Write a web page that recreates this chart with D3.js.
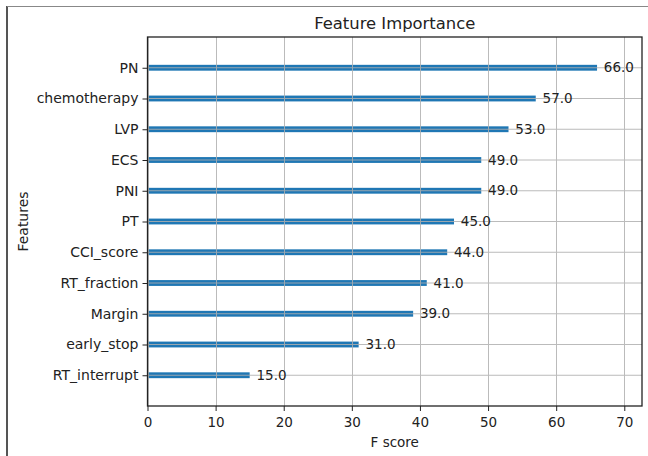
<!DOCTYPE html>
<html><head><meta charset="utf-8">
<script src="https://cdn.jsdelivr.net/npm/d3@7"></script>
<style>body{margin:0;background:#fff;}svg{display:block;font-family:"DejaVu Sans",sans-serif;}</style>
</head><body>
<script>
const features = ["RT_interrupt","early_stop","Margin","RT_fraction","CCI_score","PT","PNI","ECS","LVP","chemotherapy","PN"];
const scores = [15,31,39,41,44,45,49,49,53,57,66];
const xTicks = [0,10,20,30,40,50,60,70];

const W=648,H=456;
const m={left:147.5,right:642,top:37,bottom:406};
const svg=d3.select("body").append("svg").attr("width",W).attr("height",H);

// outer frame
svg.append("line").attr("x1",7).attr("x2",7).attr("y1",6).attr("y2",H).attr("stroke","#555").attr("stroke-width",2);
svg.append("line").attr("x1",7).attr("x2",W).attr("y1",6.5).attr("y2",6.5).attr("stroke","#888").attr("stroke-width",1);

const x=d3.scaleLinear().domain([0,d3.max(scores)*1.1]).range([m.left,m.right]);
const y=d3.scaleLinear().domain([-1,features.length]).range([m.bottom,m.top]);
const idx=d3.range(features.length);

// bars
svg.append("g").selectAll("rect").data(idx).join("rect")
  .attr("x",x(0)).attr("y",i=>y(i+0.095)).attr("width",i=>x(scores[i])-x(0))
  .attr("height",i=>y(i-0.095)-y(i+0.095)).attr("fill","#1f77b4");

// grid
const grid=svg.append("g").attr("stroke","#b0b0b0").attr("stroke-width",1).attr("opacity",0.85);
grid.selectAll(".vx").data(xTicks).join("line").attr("x1",d=>Math.round(x(d))+0.5).attr("x2",d=>Math.round(x(d))+0.5).attr("y1",m.top).attr("y2",m.bottom);
grid.selectAll(".hy").data(idx).join("line").attr("y1",i=>y(i)).attr("y2",i=>y(i)).attr("x1",m.left).attr("x2",m.right);

// value labels
svg.append("g").selectAll("text").data(idx).join("text")
  .attr("x",i=>x(scores[i]+1)).attr("y",i=>y(i)).attr("dy","0.35em")
  .attr("font-size",13.5).attr("fill","#222").text(i=>scores[i].toFixed(1));

// axes
const xAxis=d3.axisBottom(x).tickValues(xTicks).tickFormat(d3.format("d")).tickSize(5).tickPadding(6);
const gx=svg.append("g").attr("transform",`translate(0,${m.bottom})`).call(xAxis);
gx.select(".domain").remove();
gx.selectAll("text").attr("font-size",13.5).attr("fill","#222").attr("font-family","DejaVu Sans");
gx.selectAll("line").attr("stroke","#222");

const yAxis=d3.axisLeft(y).tickValues(idx).tickFormat(i=>features[i]).tickSize(5).tickPadding(4);
const gy=svg.append("g").attr("transform",`translate(${m.left},0)`).call(yAxis);
gy.select(".domain").remove();
gy.selectAll("text").attr("font-size",14).attr("fill","#222").attr("font-family","DejaVu Sans");
gy.selectAll("line").attr("stroke","#222");

// spines
svg.append("rect").attr("x",m.left).attr("y",m.top).attr("width",m.right-m.left).attr("height",m.bottom-m.top)
  .attr("fill","none").attr("stroke","#222").attr("stroke-width",1.3);

// titles
svg.append("text").attr("x",(m.left+m.right)/2).attr("y",29).attr("text-anchor","middle")
  .attr("font-size",16.4).attr("fill","#222").text("Feature Importance");
svg.append("text").attr("x",(m.left+m.right)/2).attr("y",446.5).attr("text-anchor","middle")
  .attr("font-size",13.5).attr("fill","#222").text("F score");
svg.append("text").attr("transform",`translate(28,${(m.top+m.bottom)/2}) rotate(-90)`).attr("text-anchor","middle")
  .attr("font-size",14).attr("fill","#222").text("Features");
</script>
</body></html>
